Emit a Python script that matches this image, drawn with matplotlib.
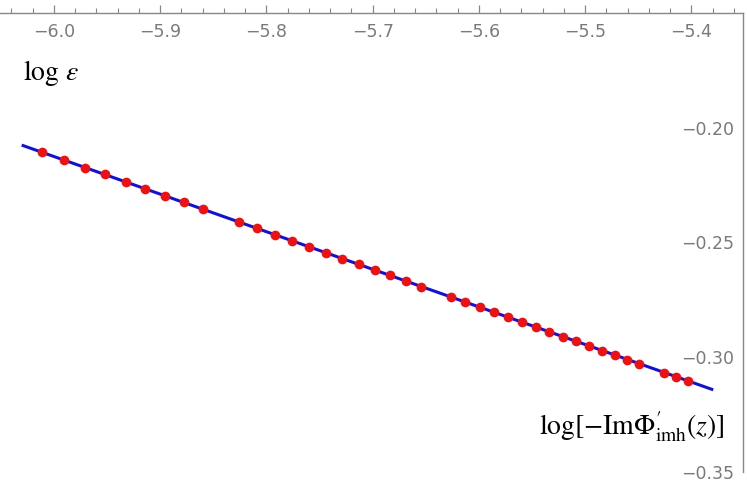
import matplotlib
matplotlib.use("Agg")
import matplotlib.pyplot as plt
from matplotlib.ticker import MultipleLocator

plt.rcParams["mathtext.fontset"] = "stix"

log_phi = [-6.0113, -5.9906, -5.9708, -5.9520, -5.9322, -5.9144, -5.8955, -5.8776,
           -5.8598, -5.8259, -5.8089, -5.7920, -5.7760, -5.7600, -5.7440, -5.7289,
           -5.7129, -5.6979, -5.6838, -5.6687, -5.6546, -5.6264, -5.6132, -5.5993,
           -5.5859, -5.5727, -5.5595, -5.5464, -5.5341, -5.5209, -5.5087, -5.4965,
           -5.4842, -5.4720, -5.4607, -5.4494, -5.4259, -5.4146, -5.4033]
log_eps = [-0.2107, -0.2141, -0.2174, -0.2204, -0.2237, -0.2266, -0.2297, -0.2326,
           -0.2356, -0.2411, -0.2439, -0.2467, -0.2493, -0.2519, -0.2545, -0.2570,
           -0.2596, -0.2621, -0.2644, -0.2669, -0.2692, -0.2738, -0.2760, -0.2783,
           -0.2805, -0.2826, -0.2848, -0.2869, -0.2889, -0.2911, -0.2931, -0.2951,
           -0.2971, -0.2991, -0.3010, -0.3028, -0.3067, -0.3085, -0.3104]

# fitted line end points
fit_x = [-6.0304, -5.3795]
fit_y = [-0.2076, -0.3142]

xticks = [-6.0, -5.9, -5.8, -5.7, -5.6, -5.5, -5.4]
yticks = [-0.20, -0.25, -0.30, -0.35]

fig = plt.figure(figsize=(7.47, 4.86), dpi=100)
ax = fig.add_axes([0.0, 0.0288, 0.9946, 0.9438])

ax.plot(fit_x, fit_y, color="#1212d0", lw=2.2, solid_capstyle="butt", zorder=2)
ax.plot(log_phi, log_eps, "o", color="#ee1111", ms=7, mec="none", zorder=3)

ax.set_xlim(-6.0508, -5.3515)
ax.set_ylim(-0.35, -0.1502)

# Mathematica-like axes: x axis on top, y axis on right
for s in ["left", "bottom"]:
    ax.spines[s].set_visible(False)
for s in ["top", "right"]:
    ax.spines[s].set_color("#888888")
    ax.spines[s].set_linewidth(1.0)

gray = "#7a7a7a"
ax.set_xticks(xticks)
ax.set_xticklabels([f"{v:.1f}".replace("-", "\u2212") for v in xticks])
ax.xaxis.set_minor_locator(MultipleLocator(0.02))
ax.tick_params(axis="x", which="both", bottom=False, top=True, labelbottom=False,
               labeltop=True, direction="out", colors="#888888", labelcolor=gray,
               labelsize=12.5)
ax.tick_params(axis="x", which="major", length=5.8, width=0.9, pad=-12.5)
ax.tick_params(axis="x", which="minor", length=3.5, width=0.8)
for lab in ax.get_xticklabels():
    lab.set_verticalalignment("top")

ax.set_yticks(yticks)
ax.set_yticklabels([f"{v:.2f}".replace("-", "\u2212") for v in yticks])
ax.tick_params(axis="y", left=False, right=True, labelleft=False, labelright=True,
               length=0, labelcolor=gray, labelsize=12.5, pad=-6.5)
for lab in ax.get_yticklabels():
    lab.set_horizontalalignment("right")

fig.text(23 / 747, (486 - 80) / 486, r"$\log\,\varepsilon$", fontsize=20,
         ha="left", va="baseline")
fig.text(725 / 747, (486 - 435) / 486,
         r"$\log[-\mathrm{Im}\Phi^{\prime}_{\mathrm{imh}}(z)]$",
         fontsize=20, ha="right", va="baseline")

fig.savefig("out.png", dpi=100)
